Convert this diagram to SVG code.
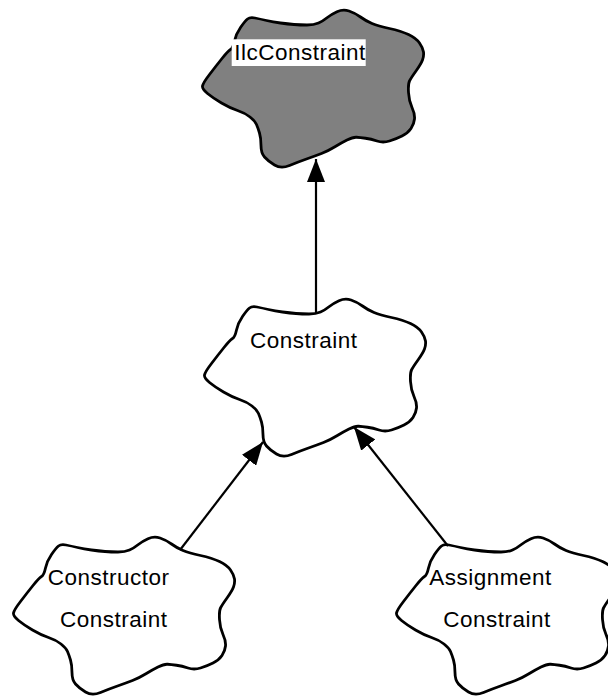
<svg xmlns="http://www.w3.org/2000/svg" xmlns:xlink="http://www.w3.org/1999/xlink" width="608" height="696" viewBox="0 0 608 696">
<style>
.cloud{stroke:#000;stroke-width:2.8;stroke-linejoin:round}
.plain{fill:#fff}
.util{fill:#808080}
.lbl{font-family:"Liberation Sans",Arial,sans-serif;font-size:22.5px;letter-spacing:0.5px;fill:#000}
.conn{stroke:#000;stroke-width:2.2;fill:none}
</style>
<defs>
<path id="cloudShape" d="M -59,-71 Q -54,-70 -47.5,-68.5 Q -41,-67 -33.5,-66 Q -26,-65 -20,-64.5 Q -14,-64 -7,-64 Q 0,-64 4.5,-66 Q 9,-68 13,-71.25 Q 17,-74.5 23,-77.25 Q 29,-80 35,-78 Q 41,-76 46.5,-72 Q 52,-68 58,-65.5 Q 64,-63 75.5,-60.5 Q 87,-58 94.5,-54.5 Q 102,-51 105.5,-46 Q 109,-41 109.5,-37 Q 110,-33 108.5,-29 Q 107,-25 102,-18 Q 97,-11 95.5,-8 Q 94,-5 94.5,3.5 Q 95,12 98,18.5 Q 101,25 100.5,30 Q 100,35 97,39.5 Q 94,44 88,47 Q 82,50 75.5,52 Q 69,54 63,52 Q 57,50 51.5,49.25 Q 46,48.5 42.5,48.25 Q 39,48 33,51 Q 27,54 20.5,58 Q 14,62 7.5,64.5 Q 1,67 -7.5,70 Q -16,73 -24.5,76.5 Q -33,80 -39.5,76 Q -46,72 -49.5,68 Q -53,64 -53,56.5 Q -53,49 -54.5,44 Q -56,39 -57.5,35.5 Q -59,32 -64,28 Q -69,24 -76.5,21.5 Q -84,19 -92.5,14 Q -101,9 -106.5,4.5 Q -112,0 -111.5,-3 Q -111,-6 -104.5,-14.5 Q -98,-23 -92,-30.5 Q -86,-38 -83.5,-39.5 Q -81,-41 -79.5,-48 Q -78,-55 -73.5,-61.5 Q -69,-68 -66.5,-70 Q -64,-72 -59,-71 Z"/>
<marker id="ah" markerWidth="23" markerHeight="18" refX="23" refY="9" orient="auto" markerUnits="userSpaceOnUse">
<path d="M0,0 L23,9 L0,18 Z" fill="#000"/>
</marker>
</defs>
<g id="IlcConstraint">
<use xlink:href="#cloudShape" class="cloud util" transform="translate(314,89)"/>
<rect x="231.7" y="39.3" width="134" height="26.7" fill="#fff"/>
<text class="lbl" x="234.3" y="60">IlcConstraint</text>
</g>
<g id="Constraint">
<use xlink:href="#cloudShape" class="cloud plain" transform="translate(316,378)"/>
<text class="lbl" x="250" y="348">Constraint</text>
</g>
<g id="ConstructorConstraint">
<use xlink:href="#cloudShape" class="cloud plain" transform="translate(125,616)"/>
<text class="lbl" x="47.7" y="585">Constructor</text>
<text class="lbl" x="60" y="626.7">Constraint</text>
</g>
<g id="AssignmentConstraint">
<use xlink:href="#cloudShape" class="cloud plain" transform="translate(508,616)"/>
<text class="lbl" x="429.3" y="585">Assignment</text>
<text class="lbl" x="443.3" y="626.7">Constraint</text>
</g>
<g id="connectors">
<line class="conn" x1="316" y1="314" x2="316" y2="159" marker-end="url(#ah)"/>
<line class="conn" x1="180" y1="550" x2="263" y2="442" marker-end="url(#ah)"/>
<line class="conn" x1="448" y1="546" x2="354" y2="427" marker-end="url(#ah)"/>
</g>
</svg>
